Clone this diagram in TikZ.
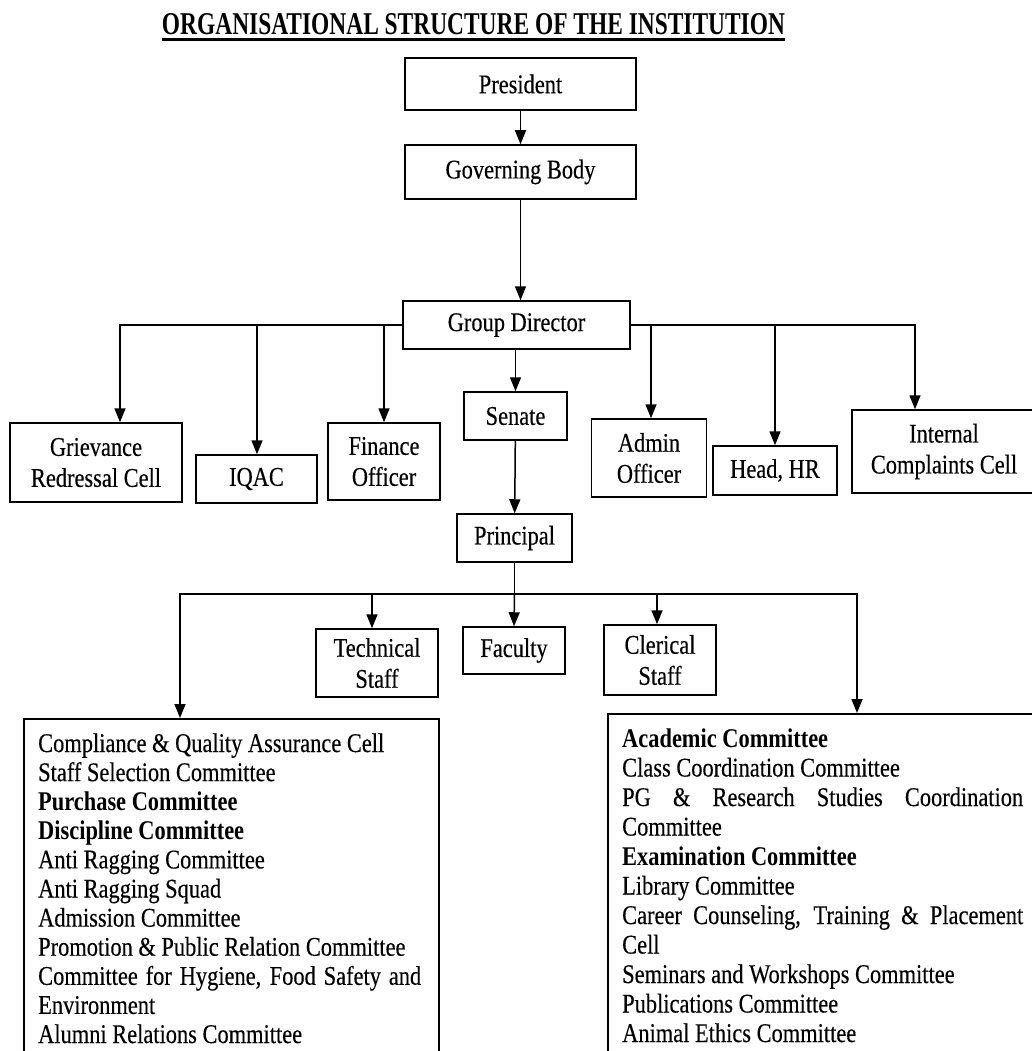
\documentclass[tikz,border=0pt]{standalone}
\usepackage{fontspec}
\setmainfont{Liberation Serif}[FakeStretch=0.83, UprightFeatures={FakeBold=0.3}]
\usetikzlibrary{arrows.meta}
\tikzset{
  bx/.style={draw, line width=1.5pt, align=center, inner sep=0pt, font=\fontsize{27}{31}\selectfont},
  arr/.style={line width=1.5pt, -{Triangle[length=14pt,width=11pt]}},
  ln/.style={line width=1.5pt},
  listbox/.style={draw, line width=1.5pt}
}
\begin{document}
\begin{tikzpicture}[x=1pt,y=-1pt]
\useasboundingbox (0,0) rectangle (1032,1051);
\clip (0,0) rectangle (1032,1051);
\fill[white] (0,0) rectangle (1032,1051);
% title
\node[anchor=base, inner sep=0pt] (title) at (473.5,35) {\resizebox{623pt}{21pt}{\bfseries ORGANISATIONAL STRUCTURE OF THE INSTITUTION}};
\draw[line width=2.2pt] (title.south west) ++(0,4) coordinate (ul1) -- (ul1 -| title.south east);
% boxes
\node[bx, minimum width=231pt, minimum height=52pt] (pres) at (520.5,84) {President};
\node[bx, minimum width=231pt, minimum height=54pt] (gb) at (520.5,172) {Governing Body};
\node[bx, minimum width=227pt, minimum height=48pt] (gd) at (516.5,325) {Group Director};
\node[bx, minimum width=172pt, minimum height=79pt] (griev) at (96,462.5) {Grievance\\Redressal Cell};
\node[bx, minimum width=121pt, minimum height=48pt] (iqac) at (256.5,479) {IQAC};
\node[bx, minimum width=112pt, minimum height=77pt] (fin) at (384,461.5) {Finance\\Officer};
\node[bx, minimum width=103pt, minimum height=48pt] (sen) at (515.5,416) {Senate};
\node[bx, minimum width=115pt, minimum height=78pt] (adm) at (649,458) {Admin\\Officer};
\node[bx, minimum width=124pt, minimum height=49pt] (hhr) at (775,470.5) {Head, HR};
\node[bx, minimum width=184pt, minimum height=83pt] (icc) at (944,451.5) {Internal\\Complaints Cell};
\node[bx, minimum width=115pt, minimum height=48pt] (prin) at (514.5,538) {Principal};
\node[bx, minimum width=122pt, minimum height=68pt] (tech) at (377,663) {Technical\\Staff};
\node[bx, minimum width=102pt, minimum height=47pt] (fac) at (514,650.5) {Faculty};
\node[bx, minimum width=112pt, minimum height=70pt] (cler) at (660,660) {Clerical\\Staff};
% list boxes
\node[listbox, anchor=north west, minimum width=415pt, minimum height=360pt, inner sep=0pt] (lbox) at (23,718) {};
\node[listbox, anchor=north west, minimum width=440pt, minimum height=360pt, inner sep=0pt] (rbox) at (607,713) {};
\node[anchor=base west, inner sep=0pt] (ltext) at (38,752) {\parbox[t]{383pt}{\fontsize{27}{29.1}\selectfont
Compliance \& Quality Assurance Cell\\
Staff Selection Committee\\
\textbf{Purchase Committee}\\
\textbf{Discipline Committee}\\
Anti Ragging Committee\\
Anti Ragging Squad\\
Admission Committee\\
Promotion \& Public Relation Committee\\
\makebox[\linewidth][s]{Committee for Hygiene, Food Safety and}\\
Environment\\
Alumni Relations Committee}};
\node[anchor=base west, inner sep=0pt] (rtext) at (622,747) {\parbox[t]{401pt}{\fontsize{27}{29.5}\selectfont
\textbf{Academic Committee}\\
Class Coordination Committee\\
\makebox[\linewidth][s]{PG \& Research Studies Coordination}\\
Committee\\
\textbf{Examination Committee}\\
Library Committee\\
\makebox[\linewidth][s]{Career Counseling, Training \& Placement}\\
Cell\\
Seminars and Workshops Committee\\
Publications Committee\\
Animal Ethics Committee}};
% connectors
\draw[arr] (pres) -- (gb);
\draw[arr] (gb.south) -- (gb.south |- gd.north);
\coordinate (bgr) at (120,325);
\coordinate (biq) at (257,325);
\coordinate (bfi) at (384,325);
\coordinate (bad) at (651,325);
\coordinate (bhr) at (775,325);
\coordinate (bic) at (915,325);
\draw[arr] (gd.west) -- (bgr) -- (bgr |- griev.north);
\draw[arr] (biq) -- (biq |- iqac.north);
\draw[arr] (bfi) -- (fin.north);
\draw[arr] (gd.south -| sen.north) -- (sen.north);
\draw[arr] (gd.east) -- (bic) -- (bic |- icc.north);
\draw[arr] (bad) -- (bad |- adm.north);
\draw[arr] (bhr) -- (hhr.north);
\draw[arr] (sen) -- (prin);
\coordinate (pj) at (514.5,594);
\coordinate (bl) at (180,594);
\coordinate (br) at (857,594);
\coordinate (bte) at (372,594);
\coordinate (bcl) at (657,594);
\draw[ln] (prin.south) -- (pj);
\draw[arr] (pj) -- (fac.north);
\draw[arr] (pj) -- (bl) -- (bl |- lbox.north);
\draw[arr] (pj) -- (br) -- (br |- rbox.north);
\draw[arr] (bte) -- (bte |- tech.north);
\draw[arr] (bcl) -- (bcl |- cler.north);
\end{tikzpicture}
\end{document}
